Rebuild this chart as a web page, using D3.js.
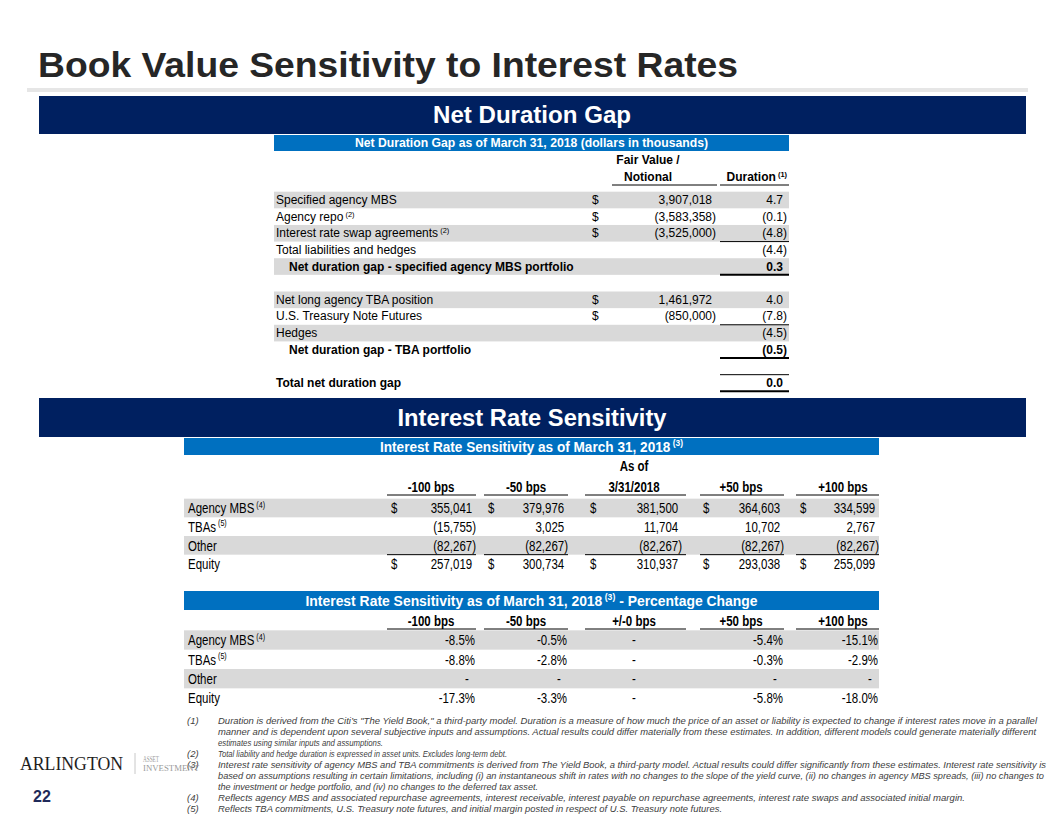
<!DOCTYPE html>
<html><head><meta charset="utf-8">
<script src="https://cdn.jsdelivr.net/npm/d3@7"></script>
<style>body{margin:0;background:#fff}svg{display:block}</style>
</head><body>
<svg id="c" width="1056" height="816"></svg>
<script>
// ---------------- DATA ----------------
const durLabels = ["Specified agency MBS","Agency repo","Interest rate swap agreements","Total liabilities and hedges",
  "Net duration gap - specified agency MBS portfolio","","Net long agency TBA position","U.S. Treasury Note Futures",
  "Hedges","Net duration gap - TBA portfolio","","Total net duration gap"];
const durSup = ["","(2)","(2)","","","","","","","","",""];
const durFairValue = [3907018,-3583358,-3525000,null,null,null,1461972,-850000,null,null,null,null];
const durDuration = [4.7,-0.1,-4.8,-4.4,0.3,null,4.0,-7.8,-4.5,-0.5,null,0.0];
const durBold = [0,0,0,0,1,0,0,0,0,1,0,1];
const durIndent = [0,0,0,0,1,0,0,0,0,1,0,0];

const sensScenarios = ["-100 bps","-50 bps","3/31/2018","+50 bps","+100 bps"];
const sensRows = ["Agency MBS","TBAs","Other","Equity"];
const sensSup = ["(4)","(5)","",""];
const sensAgencyMBS = [355041,379976,381500,364603,334599];
const sensTBAs = [-15755,3025,11704,10702,2767];
const sensOther = [-82267,-82267,-82267,-82267,-82267];
const sensEquity = [257019,300734,310937,293038,255099];

const pctScenarios = ["-100 bps","-50 bps","+/-0 bps","+50 bps","+100 bps"];
const pctAgencyMBS = [-8.5,-0.5,null,-5.4,-15.1];
const pctTBAs = [-8.8,-2.8,null,-0.3,-2.9];
const pctOther = [null,null,null,null,null];
const pctEquity = [-17.3,-3.3,null,-5.8,-18.0];

const footnotes = [
 ["(1)", ["Duration is derived from the Citi’s \"The Yield Book,\" a third-party model.  Duration is a measure of how much the price of an asset or liability is expected to change if interest rates move in a parallel",
          "manner and is dependent upon several subjective inputs and assumptions.  Actual results could differ materially from these estimates. In addition, different models could generate materially different",
          "estimates using similar inputs and assumptions."]],
 ["(2)", ["Total liability and hedge duration is expressed in asset units.  Excludes long-term debt."]],
 ["(3)", ["Interest rate sensitivity of agency MBS and TBA commitments is derived from The Yield Book, a third-party model.  Actual results could differ significantly from these estimates.  Interest rate sensitivity is",
          "based on assumptions resulting in certain limitations, including (i) an instantaneous shift in rates with no changes to the slope of the yield curve, (ii) no changes in agency MBS spreads, (iii) no changes to",
          "the investment or hedge portfolio, and (iv) no changes to the deferred tax asset."]],
 ["(4)", ["Reflects agency MBS and associated repurchase agreements, interest receivable, interest payable on repurchase agreements, interest rate swaps and associated initial margin."]],
 ["(5)", ["Reflects TBA commitments, U.S. Treasury note futures, and initial margin posted in respect of U.S. Treasury note futures."]]
];
const footEnds = [[1037,1036,383],[507],[1046,1044,538],[965],[722]];

// ---------------- LAYOUT ----------------
const svg = d3.select("#c");
const NAVY="#002060", BLUE="#0070C0", GRAY="#D9D9D9";
const cv = document.createElement("canvas").getContext("2d");
function tw(font,s){cv.font=font;return cv.measureText(s).width;}
const probe="Agency MBS 355,041 abc";
const hasNarrow = Math.abs(tw("14px 'Liberation Sans Narrow', monospace",probe)-tw("14px monospace",probe))>0.5;
const SANS = "'Liberation Sans', Arial, sans-serif";
const NARROW_FF = hasNarrow ? "'Liberation Sans Narrow', sans-serif" : SANS;
const SQ = hasNarrow ? 1 : 0.82;   // horizontal squeeze to imitate a narrow face
const NFS = 14;
const minus = s => s.replace(/\u2212/g,"-");

function txt(g,x,y,s,o={}){
  const fs=o.fs||12;
  const t=g.append("text")
    .attr("font-family",o.narrow?NARROW_FF:(o.ff||SANS)).attr("font-size",fs).attr("fill",o.fill||"#000")
    .attr("text-anchor",o.anchor||"start").attr("dominant-baseline","central");
  if(o.narrow && SQ!==1) t.attr("x",0).attr("y",0).attr("transform",`translate(${x},${y}) scale(${SQ},1)`);
  else t.attr("x",x).attr("y",y);
  t.append("tspan").text(s);
  if(o.bold) t.attr("font-weight","bold");
  if(o.italic) t.attr("font-style","italic");
  if(o.sup) t.append("tspan").attr("dy",-fs*0.25).attr("font-size",fs*0.62).text(" "+o.sup);
  if(o.tl) t.attr("textLength",o.tl).attr("lengthAdjust","spacingAndGlyphs");
  return t;
}
function hline(x1,x2,y,w=1){svg.append("line").attr("x1",x1).attr("x2",x2).attr("y1",y).attr("y2",y).attr("stroke","#000").attr("stroke-width",w);}

// Title
txt(svg,38,64,"Book Value Sensitivity to Interest Rates",{fs:35,bold:true,fill:"#262626",tl:700});
svg.append("rect").attr("x",27).attr("y",88).attr("width",1001).attr("height",4).attr("fill","#E6E6E6");

// Section bands
function band(y,h,label,tl){
  svg.append("rect").attr("x",39).attr("y",y).attr("width",987).attr("height",h).attr("fill",NAVY);
  txt(svg,532,y+h/2,label,{fs:23,bold:true,fill:"#fff",anchor:"middle",tl:tl});
}
function blueHead(x,y,w,h,label,sup,suffix,fs,tl){
  svg.append("rect").attr("x",x).attr("y",y).attr("width",w).attr("height",h).attr("fill",BLUE);
  const t=txt(svg,x+w/2,y+h/2,label,{fs:fs,bold:true,fill:"#fff",anchor:"middle",sup:sup});
  if(suffix) t.append("tspan").attr("dy",fs*0.25).attr("font-size",fs).text(suffix);
  if(tl) t.attr("textLength",tl).attr("lengthAdjust","spacingAndGlyphs");
}

band(96,38,"Net Duration Gap",198);
blueHead(274,135,515,16,"Net Duration Gap as of March 31, 2018 (dollars in thousands)",null,null,12.5,353);

// ----- Net duration table -----
const fmt = d3.format(",");
const yDur = d3.scalePoint().domain(d3.range(durLabels.length)).range([200,383]);
const stepD = yDur.step();
const dollarX=592, fvRight=716, durRight=787;
const parenW = f=>tw(f,")");
durLabels.forEach((l,i)=>{
  if([0,2,4,6,8].includes(i))
    svg.append("rect").attr("x",274).attr("y",yDur(i)-stepD/2).attr("width",515).attr("height",stepD).attr("fill",GRAY);
});
txt(svg,648,160,"Fair Value /",{fs:12,bold:true,anchor:"middle"});
txt(svg,648,177,"Notional",{fs:12,bold:true,anchor:"middle"});
txt(svg,787,177,"Duration",{fs:12,bold:true,anchor:"end",sup:"(1)"});
hline(612,717,185); hline(720,789,185);
durLabels.forEach((l,i)=>{
  const y=yDur(i), b=!!durBold[i];
  const f=(b?"bold ":"")+"12px 'Liberation Sans'";
  if(l) txt(svg,durIndent[i]?289:276,y,l,{fs:12,bold:b,sup:durSup[i]||null});
  const v=durFairValue[i];
  if(v!==null){
    txt(svg,dollarX,y,"$",{fs:12});
    if(v<0) txt(svg,fvRight,y,"("+fmt(-v)+")",{fs:12,anchor:"end"});
    else txt(svg,fvRight-parenW(f),y,fmt(v),{fs:12,anchor:"end"});
  }
  const d=durDuration[i];
  if(d!==null){
    const s=d3.format(".1f")(Math.abs(d));
    if(d<0) txt(svg,durRight,y,"("+s+")",{fs:12,anchor:"end",bold:b});
    else txt(svg,durRight-parenW(f),y,s,{fs:12,anchor:"end",bold:b});
  }
});
const mid=(i)=>yDur(i)+stepD/2;
hline(720,789,mid(2)); hline(720,789,mid(4),2);
hline(720,789,mid(7)); hline(720,789,mid(9),2);
hline(720,789,mid(10)); hline(720,789,mid(11),2);

// ----- Interest rate sensitivity -----
band(398,39,"Interest Rate Sensitivity",269);
blueHead(184,438,695,17,"Interest Rate Sensitivity as of March 31, 2018","(3)",null,14,303);

const colRight=[476,568,686,784,879], colDollar=[391,488,590,703,800],
      colCenter=[431,526,634,741,843], colUL=[387,484,585,700,796];
const xR = d3.scaleOrdinal().domain(sensScenarios).range(colRight);
const xD = d3.scaleOrdinal().domain(sensScenarios).range(colDollar);
const xC = d3.scaleOrdinal().domain(sensScenarios).range(colCenter);
const xU = d3.scaleOrdinal().domain(sensScenarios).range(colUL);
const ySens = d3.scalePoint().domain(sensRows).range([508,564]);
const stepS = ySens.step();
const sensData=[sensAgencyMBS,sensTBAs,sensOther,sensEquity];
[0,2].forEach(i=>svg.append("rect").attr("x",184).attr("y",ySens(sensRows[i])-stepS/2).attr("width",695).attr("height",stepS).attr("fill",GRAY));
txt(svg,xC("3/31/2018"),466,"As of",{fs:NFS,bold:true,anchor:"middle",narrow:true});
const nParen = tw(NFS+"px 'Liberation Sans'",")")*SQ;
sensScenarios.forEach(sc=>{
  txt(svg,xC(sc),487,sc,{fs:NFS,bold:true,anchor:"middle",narrow:true});
  hline(xU(sc),xR(sc),495);
  hline(xU(sc),xR(sc),ySens("Other")+stepS/2);
});
sensRows.forEach((r,i)=>{
  const y=ySens(r);
  txt(svg,188,y,r,{fs:NFS,narrow:true,sup:sensSup[i]||null});
  sensScenarios.forEach((sc,j)=>{
    const v=sensData[i][j];
    if(i===0||i===3) txt(svg,xD(sc),y,"$",{fs:NFS,narrow:true});
    const rr = sc==="3/31/2018" ? xR(sc)-4 : xR(sc);
    if(v<0) txt(svg,rr,y,"("+fmt(-v)+")",{fs:NFS,narrow:true,anchor:"end"});
    else txt(svg,rr-nParen,y,fmt(v),{fs:NFS,narrow:true,anchor:"end"});
  });
});

// ----- Percentage change -----
blueHead(184,591,695,19,"Interest Rate Sensitivity as of March 31, 2018","(3)"," - Percentage Change",14,452);
const pR = d3.scaleOrdinal().domain(pctScenarios).range(colRight);
const pC = d3.scaleOrdinal().domain(pctScenarios).range(colCenter);
const pU = d3.scaleOrdinal().domain(pctScenarios).range(colUL);
const yPct = d3.scalePoint().domain(sensRows).range([640,698]);
const stepP = yPct.step();
const pctData=[pctAgencyMBS,pctTBAs,pctOther,pctEquity];
[0,2].forEach(i=>svg.append("rect").attr("x",184).attr("y",yPct(sensRows[i])-stepP/2).attr("width",695).attr("height",stepP).attr("fill",GRAY));
pctScenarios.forEach(sc=>{
  txt(svg,pC(sc),621,sc,{fs:NFS,bold:true,anchor:"middle",narrow:true});
  hline(pU(sc),pR(sc),629);
});
sensRows.forEach((r,i)=>{
  const y=yPct(r);
  txt(svg,188,y,r,{fs:NFS,narrow:true,sup:sensSup[i]||null});
  pctScenarios.forEach((sc,j)=>{
    const v=pctData[i][j];
    if(v===null){
      const x = sc==="+/-0 bps" ? pC(sc) : pR(sc)-9;
      txt(svg,x,y,"-",{fs:NFS,narrow:true,anchor:"middle"});
    } else txt(svg,pR(sc)-1,y,minus(d3.format(".1f")(v))+"%",{fs:NFS,narrow:true,anchor:"end"});
  });
});

// ----- Footnotes -----
let fy=720;
footnotes.forEach(([num,lines],k)=>{
  txt(svg,187,fy,num,{fs:9.5,italic:true,fill:"#404040"});
  lines.forEach((ln,m)=>{
    txt(svg,218,fy,ln,{fs:9.5,italic:true,fill:"#404040",tl:footEnds[k][m]-218});
    fy+=11;
  });
});

// ----- Logo and page number -----
txt(svg,20,764,"ARLINGTON",{fs:18,ff:"'Liberation Serif', serif",fill:"#1e1e1e",tl:103});
svg.append("line").attr("x1",135).attr("x2",135).attr("y1",753).attr("y2",774).attr("stroke","#c8c8c8");
txt(svg,143,759,"ASSET",{fs:9,ff:"'Liberation Serif', serif",fill:"#9a9a9a",tl:16});
txt(svg,143,768,"INVESTMENT",{fs:9,ff:"'Liberation Serif', serif",fill:"#9a9a9a",tl:56});
txt(svg,33,796,"22",{fs:16,bold:true,fill:"#1F2A5A"});
</script>
</body></html>
